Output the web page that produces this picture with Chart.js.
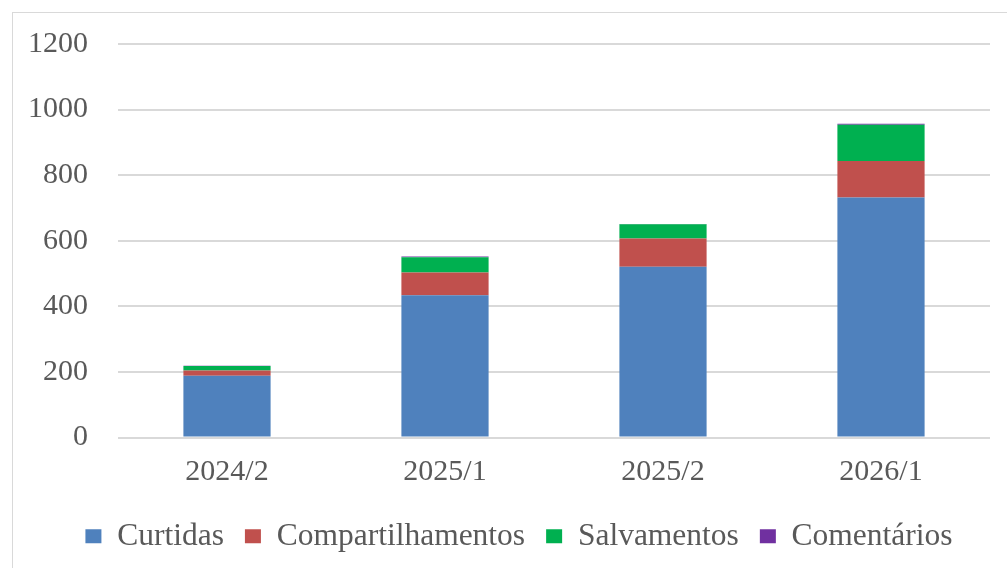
<!DOCTYPE html>
<html><head><meta charset="utf-8">
<script src="https://cdn.jsdelivr.net/npm/chart.js@4/dist/chart.umd.min.js"></script>
<style>
html,body{margin:0;padding:0;background:#fff;overflow:hidden}
#frame{position:absolute;left:12px;top:12px;width:1100px;height:600px;border:1px solid #d9d9d9;box-sizing:border-box}
#wrap{position:absolute;left:0;top:0;width:1007px;height:568px}
</style></head><body>
<div id="frame"></div>
<div id="wrap"><canvas id="c" width="1007" height="568"></canvas></div>
<script>
const categories = ["2024/2","2025/1","2025/2","2026/1"];
const curtidas = [188, 434, 521, 732];
const compartilhamentos = [16, 69, 86, 111];
const salvamentos = [14, 47, 43, 111];
const comentarios = [1, 2, 1, 3];
const yTicks = [0,200,400,600,800,1000,1200];

const fam = "'Liberation Serif', 'Times New Roman', serif";
const tickFont = {family:fam, size:30};
const legendFont = {family:fam, size:31.5};
const legendShift = {
  id:'legendShift',
  afterLayout(chart){ if(chart.legend){ chart.legend.left += 24; chart.legend.right += 24; } }
};
const ds = (label, data, color) => ({label, data, backgroundColor:color, borderWidth:0, barPercentage:0.8, categoryPercentage:0.5});
new Chart(document.getElementById('c'), {
  type:'bar',
  plugins:[legendShift],
  data:{labels:categories, datasets:[
    ds('Curtidas', curtidas, '#4F81BD'),
    ds('Compartilhamentos', compartilhamentos, '#C0504D'),
    ds('Salvamentos', salvamentos, '#00B050'),
    ds('Comentários', comentarios, '#7030A0')
  ]},
  options:{
    responsive:false, animation:false,
    layout:{padding:{left:0, right:17, top:44, bottom:6}},
    plugins:{
      tooltip:{enabled:false},
      legend:{position:'bottom', labels:{font:legendFont, color:'#595959', boxWidth:16, boxHeight:14, padding:21}}
    },
    scales:{
      x:{stacked:true, grid:{display:false}, border:{display:false},
         afterFit:(s)=>{s.height = 62; s.paddingLeft = 0; s.paddingRight = 0;},
         ticks:{font:tickFont, color:'#595959', padding:9}},
      y:{stacked:true, min:0, max:1200, border:{display:false},
         afterBuildTicks:(s)=>{s.ticks = yTicks.map(v=>({value:v}));},
         afterFit:(s)=>{s.width = 118; s.paddingTop = 0; s.paddingBottom = 0;},
         grid:{color:'#d9d9d9', lineWidth:2, drawTicks:false},
         ticks:{font:tickFont, color:'#595959', padding:30, callback:(v)=>String(v)}}
    }
  }
});
</script>
</body></html>
